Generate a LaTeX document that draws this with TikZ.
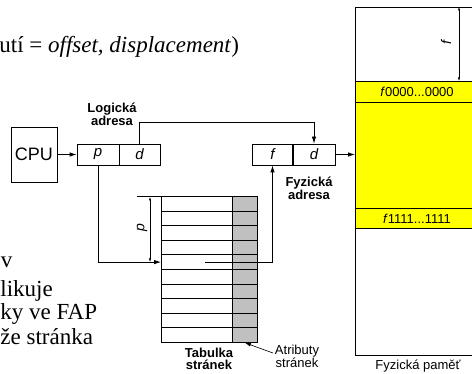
\documentclass[tikz,border=0pt]{standalone}
\usepackage{fontspec}
\setmainfont{Liberation Serif}
\setsansfont{Liberation Sans}
\usetikzlibrary{arrows.meta}
\definecolor{tabgray}{HTML}{C0C0C0}
\definecolor{memyellow}{HTML}{FFFF00}
\begin{document}
\begin{tikzpicture}[x=1pt,y=-1pt,line width=0.8pt,
  cell/.style={draw, minimum height=21pt, inner sep=0pt, font=\sffamily\itshape\fontsize{15}{15}\selectfont},
  lbl/.style={font=\sffamily\bfseries\fontsize{13}{12}\selectfont, align=center, inner sep=0pt},
  txt/.style={font=\sffamily\fontsize{13}{13}\selectfont, align=center, inner sep=0pt},
  big/.style={font=\fontsize{23}{27}\selectfont, inner sep=0pt},
  arr/.style={-{Latex[length=7pt,width=4.5pt]}},
  dim/.style={{Latex[length=3.5pt,width=2.2pt]}-{Latex[length=3.5pt,width=2.2pt]}, line width=0.5pt},
  rowbox/.style={draw, minimum height=14.6pt, inner sep=0pt, anchor=north west}]
\useasboundingbox (0,0) rectangle (472,374);
\clip (0,0) rectangle (472,374);

% serif texts
\node[big, anchor=base west] (t1) at (-1,53) {utí = \textit{offset, displacement})};
\node[big, anchor=base west] (t2) at (0.5,268) {v};
\node[big, anchor=base west] (t3) at (0,297) {likuje};
\node[big, anchor=base west] (t4) at (0,320) {ky ve FAP};
\node[big, anchor=base west] (t5) at (0,345) {že stránka};

% CPU and logical address
\node[draw, minimum width=46pt, minimum height=55pt, inner sep=0pt, font=\sffamily\fontsize{18}{18}\selectfont] (cpu) at (34,154.5) {CPU};
\node[cell, minimum width=42pt] (lp) at (98,154.5) {p};
\node[cell, minimum width=41pt] (ld) at (139.5,154.5) {d};
\node[lbl] (llab) at (112,114) {Logická\\adresa};
\draw[arr] (cpu.east) -- (lp.west);

% physical address
\node[cell, minimum width=41pt] (pf) at (272.5,154.5) {f};
\node[cell, minimum width=43pt] (pd) at (314,154.5) {d};
\node[lbl] (plab) at (309,188.5) {Fyzická\\adresa};
\draw[arr] (ld.north) -- ++(0,-21) -| (pd.north);

% physical memory
\node[draw, minimum width=140pt, minimum height=348pt, inner sep=0pt, anchor=north west] (mem) at (355,7) {};
\node[draw, fill=memyellow, minimum width=140pt, minimum height=147pt, inner sep=0pt, anchor=north west] (ylw) at (355,81) {};
\node[draw, minimum width=140pt, minimum height=21pt, inner sep=0pt, anchor=north west] (frow0) at (355,81) {};
\node[draw, minimum width=140pt, minimum height=20pt, inner sep=0pt, anchor=north west] (frow1) at (355,208) {};
\node[txt] (f0txt) at (417,92) {\textit{f}0000...0000};
\node[txt] (f1txt) at (417,218.5) {\textit{f}1111...1111};
\coordinate (ftop) at (459,7);
\coordinate (fbot) at (459,81);
\draw[dim] (ftop) -- (fbot);
\node[txt, font=\sffamily\itshape\fontsize{14}{14}\selectfont, rotate=90] (flab) at (446,43) {f};
\node[txt] (memlab) at (418,366) {Fyzická paměť};
\draw[arr] (pd.east) -- (pd.east -| mem.west);

% page table
\foreach \i in {1,...,10} {
  \node[rowbox, minimum width=71pt] (r\i) at (161,{196+14.6*(\i-1)}) {};
  \node[rowbox, fill=tabgray, minimum width=25pt] (g\i) at (232,{196+14.6*(\i-1)}) {};
}
\draw[line width=1.3pt] (r1.north east) -- (r10.south east);
\coordinate (ptick) at (137,196);
\draw (ptick) -- (r1.north west);
\coordinate (ptop) at (150,197);
\coordinate (pbot) at (150,262);
\draw[dim] (ptop) -- (pbot);
\node[txt, font=\sffamily\itshape\fontsize{14}{14}\selectfont, rotate=90] (plabel) at (142,228) {p};
\draw[arr] (lp.south) |- (r5.west);
\coordinate (rsel) at (205,262);
\draw[arr] (rsel) -| (pf.south);
\node[lbl] (tablab) at (209,358.5) {Tabulka\\stránek};
\node[txt, font=\sffamily\fontsize{13}{12.5}\selectfont] (attr) at (297,356.5) {Atributy\\stránek};
\draw[-{Latex[length=6pt,width=3.5pt]}, line width=0.6pt] (273,353) -- (g10.south);
\end{tikzpicture}
\end{document}
